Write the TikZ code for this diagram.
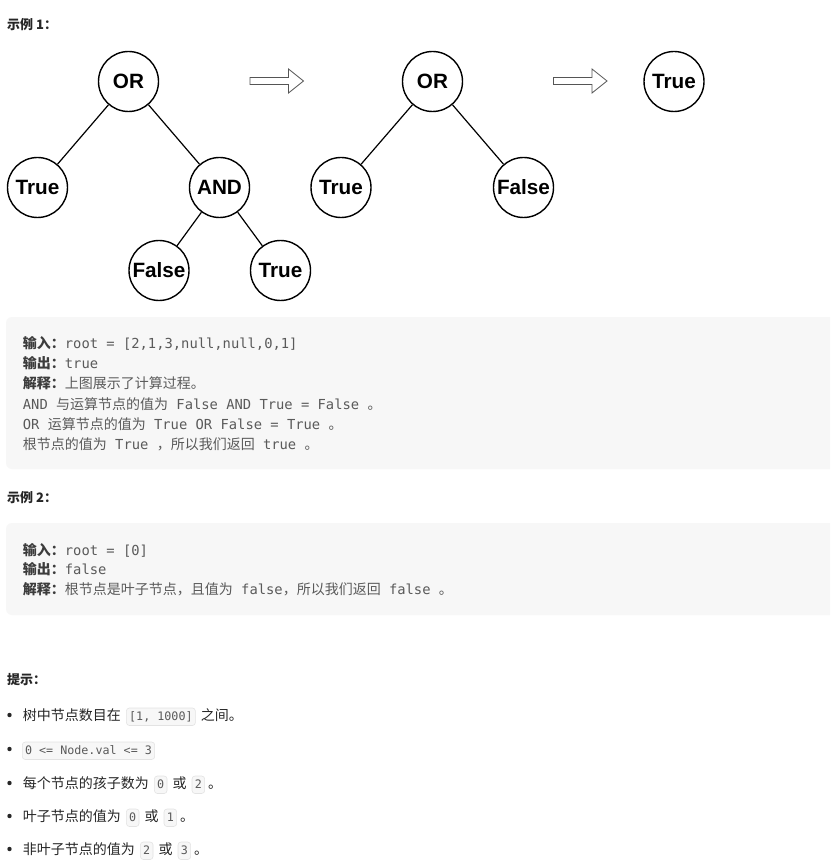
\documentclass[tikz,border=0pt]{standalone}
\usepackage{fontspec}
\setmainfont{Noto Sans CJK SC}
\newfontfamily\codefont{DejaVu Sans Mono}
\newfontfamily\treefont{Liberation Sans}
\usetikzlibrary{positioning}

\definecolor{codebg}{HTML}{F7F7F7}
\definecolor{codeborder}{HTML}{E3E3E3}
\definecolor{codegray}{HTML}{5A5A5A}
\definecolor{labelgray}{HTML}{3C3C3C}
\definecolor{textdark}{HTML}{262626}
\definecolor{arrowgray}{HTML}{555555}

% mono part inside a code block line
\newcommand\cd[1]{{\codefont\fontsize{13.8}{20}\selectfont #1}}
% bold label at the start of a code line
\newcommand\lbl[1]{{\bfseries\color{labelgray}#1}}
% hollow block arrow, left end at (#1,#2)
\newcommand\blockarrow[2]{%
  \draw[arrowline] (#1,#2) ++(0,-3.5) -- ++(38.5,0) -- ++(0,-8.5) -- ++(15,12)
    -- ++(-15,12) -- ++(0,-8.5) -- ++(-38.5,0) -- cycle;}

\tikzset{
  treenode/.style={circle, draw, line width=1.4pt, minimum size=60pt, inner sep=0pt,
    font=\treefont\bfseries\fontsize{20.7}{24}\selectfont},
  edge/.style={line width=1.2pt},
  arrowline/.style={draw=arrowgray, line width=0.8pt},
  title/.style={anchor=base west, inner sep=0pt, text=textdark,
    font=\bfseries\fontsize{13}{16}\selectfont},
  codeline/.style={anchor=base west, inner sep=0pt, text=codegray,
    font=\fontsize{14}{20}\selectfont},
  hint/.style={anchor=base west, inner sep=0pt, text=textdark,
    font=\fontsize{14}{16}\selectfont},
  inlinecode/.style={anchor=base west, draw=codeborder, fill=codebg, rounded corners=3pt,
    line width=0.6pt, text=codegray, font=\codefont\fontsize{11.7}{14}\selectfont,
    inner xsep=2.8pt, inner ysep=3pt, text height=9pt, text depth=2.5pt},
  dot/.style={circle, fill=textdark, inner sep=0pt, minimum size=4.4pt}
}

\begin{document}
\begin{tikzpicture}[x=1pt,y=-1pt]
    \useasboundingbox (0,0) rectangle (830,866);
    \clip (0,0) rectangle (830,866);
    \fill[white] (0,0) rectangle (830,866);

    % Example 1 title
    \node[title] (ex1) at (7,29.7) {示例 1：};

    % First tree on the left
    \node[treenode] (or1) at (128.5,81.5) {OR};
    \node[treenode] (true1) at (37.5,187.5) {True};
    \node[treenode] (and1) at (219.5,187.5) {AND};
    \node[treenode] (false1) at (159,270.5) {False};
    \node[treenode] (true2) at (280.5,270.5) {True};
    \draw[edge] (or1) -- (true1);
    \draw[edge] (or1) -- (and1);
    \draw[edge] (and1) -- (false1);
    \draw[edge] (and1) -- (true2);

    \blockarrow{250}{81}

    % Second tree (AND evaluated)
    \node[treenode] (or2) at (432.5,81.5) {OR};
    \node[treenode] (true3) at (341,187.5) {True};
    \node[treenode] (false2) at (523.5,187.5) {False};
    \draw[edge] (or2) -- (true3);
    \draw[edge] (or2) -- (false2);

    \blockarrow{553.5}{81}

    % Result
    \node[treenode] (true4) at (674,81.5) {True};

    % Code block of example 1
    \fill[codebg, rounded corners=6pt] (6,317) rectangle (840,469);
    \node[codeline] (c1a) at (22.7,348) {\lbl{输入：}\cd{root = [2,1,3,null,null,0,1]}};
    \node[codeline] (c1b) at (22.7,368.5) {\lbl{输出：}\cd{true}};
    \node[codeline] (c1c) at (22.7,388.8) {\lbl{解释：}上图展示了计算过程。};
    \node[codeline] (c1d) at (22.7,409) {\cd{AND }与运算节点的值为\cd{ False AND True = False }。};
    \node[codeline] (c1e) at (22.7,429.2) {\cd{OR }运算节点的值为\cd{ True OR False = True }。};
    \node[codeline] (c1f) at (22.7,449.4) {根节点的值为\cd{ True }，所以我们返回\cd{ true }。};

    % Example 2
    \node[title] (ex2) at (7,502.7) {示例 2：};
    \fill[codebg, rounded corners=6pt] (6,523) rectangle (840,615);
    \node[codeline] (c2a) at (22.7,555) {\lbl{输入：}\cd{root = [0]}};
    \node[codeline] (c2b) at (22.7,574.7) {\lbl{输出：}\cd{false}};
    \node[codeline] (c2c) at (22.7,594.4) {\lbl{解释：}根节点是叶子节点，且值为\cd{ false}，所以我们返回\cd{ false }。};

    % Hints
    \node[title] (tips) at (7,684.7) {提示：};

    \node[dot] (d1) at (9.5,715) {};
    \node[hint] (h1a) at (22.7,720) {树中节点数目在};
    \node[inlinecode] (h1b) at ([xshift=5pt]h1a.base east) {[1, 1000]};
    \node[hint] (h1c) at ([xshift=5pt]h1b.base east) {之间。};

    \node[dot] (d2) at (9.5,749) {};
    \node[inlinecode] (h2a) at (22,754) {0 <= Node.val <= 3};

    \node[dot] (d3) at (9.5,783) {};
    \node[hint] (h3a) at (22.7,788) {每个节点的孩子数为};
    \node[inlinecode] (h3b) at ([xshift=5pt]h3a.base east) {0};
    \node[hint] (h3c) at ([xshift=5pt]h3b.base east) {或};
    \node[inlinecode] (h3d) at ([xshift=5pt]h3c.base east) {2};
    \node[hint] (h3e) at ([xshift=3pt]h3d.base east) {。};

    \node[dot] (d4) at (9.5,816) {};
    \node[hint] (h4a) at (22.7,821) {叶子节点的值为};
    \node[inlinecode] (h4b) at ([xshift=5pt]h4a.base east) {0};
    \node[hint] (h4c) at ([xshift=5pt]h4b.base east) {或};
    \node[inlinecode] (h4d) at ([xshift=5pt]h4c.base east) {1};
    \node[hint] (h4e) at ([xshift=3pt]h4d.base east) {。};

    \node[dot] (d5) at (9.5,849) {};
    \node[hint] (h5a) at (22.7,854) {非叶子节点的值为};
    \node[inlinecode] (h5b) at ([xshift=5pt]h5a.base east) {2};
    \node[hint] (h5c) at ([xshift=5pt]h5b.base east) {或};
    \node[inlinecode] (h5d) at ([xshift=5pt]h5c.base east) {3};
    \node[hint] (h5e) at ([xshift=3pt]h5d.base east) {。};
\end{tikzpicture}
\end{document}
